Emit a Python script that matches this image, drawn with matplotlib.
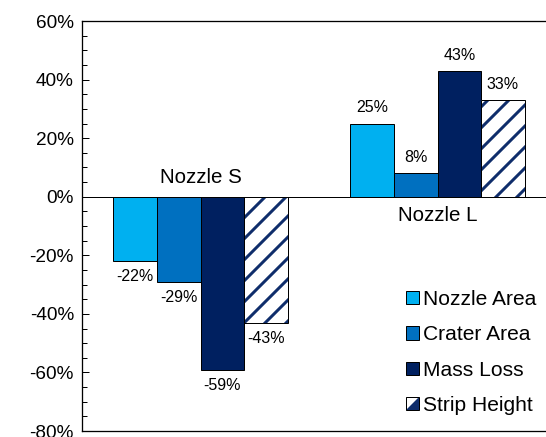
import matplotlib
matplotlib.use("Agg")
import matplotlib.pyplot as plt
from matplotlib.ticker import MultipleLocator, FuncFormatter
from matplotlib.legend_handler import HandlerBase
from matplotlib.patches import Rectangle, Polygon
import numpy as np

W, H = 546, 437
dpi = 63
PT = 72 / dpi  # points per output pixel

plt.rcParams['font.family'] = ['Liberation Sans', 'DejaVu Sans']
plt.rcParams['hatch.linewidth'] = 3.0 * PT

groups = ["Nozzle S", "Nozzle L"]
series = ["Nozzle Area", "Crater Area", "Mass Loss", "Strip Height"]
values = {
    "Nozzle Area": [-22, 25],
    "Crater Area": [-29, 8],
    "Mass Loss": [-59, 43],
    "Strip Height": [-43, 33],
}
colors = {
    "Nozzle Area": "#00b0f0",
    "Crater Area": "#0070c0",
    "Mass Loss": "#002060",
    "Strip Height": "white",
}
stripe_color = "#0f2d6b"
yticks = [-80, -60, -40, -20, 0, 20, 40, 60]


class HalfSquareHandler(HandlerBase):
    """Legend key: white square with a navy lower-right triangle."""
    def create_artists(self, legend, orig_handle, xdescent, ydescent,
                       width, height, fontsize, trans):
        x0, y0 = -xdescent, -ydescent
        bg = Rectangle((x0, y0), width, height, facecolor='white',
                       edgecolor='none', transform=trans)
        tri = Polygon([[x0, y0], [x0 + width, y0], [x0 + width, y0 + height]],
                      closed=True, facecolor=stripe_color, edgecolor='none',
                      transform=trans)
        border = Rectangle((x0, y0), width, height, fill=False,
                           edgecolor='black', linewidth=1.0 * PT,
                           transform=trans)
        return [bg, tri, border]


fig = plt.figure(figsize=(W / dpi, H / dpi), dpi=dpi)
ax = fig.add_axes([82 / W, 6 / H, 474 / W, 410 / H])

x = np.arange(len(groups))
width = 0.184
handles = []
for i, name in enumerate(series):
    offs = (i - 1.5) * width
    if name == "Strip Height":
        ax.bar(x + offs, values[name], width, color='white',
               edgecolor=stripe_color, linewidth=0, hatch='/', zorder=2)
        ax.bar(x + offs, values[name], width, fill=False,
               edgecolor='black', linewidth=1.0 * PT, zorder=2.5)
        handles.append(Rectangle((0, 0), 1, 1))
    else:
        bars = ax.bar(x + offs, values[name], width, color=colors[name],
                      edgecolor='black', linewidth=1.0 * PT, zorder=2)
        handles.append(bars)
    for xi, v in zip(x + offs, values[name]):
        dy = 5.3 if v > 0 else -5.3
        ax.text(xi, v + dy, f"{v}%", ha='center', va='center',
                fontsize=16 * PT)

ax.axhline(0, color='black', linewidth=1.0 * PT, zorder=3)

ax.set_xlim(-0.5, 1.5)
ax.set_ylim(yticks[0], yticks[-1])
ax.set_xticks([])
ax.set_yticks(yticks)
ax.yaxis.set_minor_locator(MultipleLocator(5))
ax.yaxis.set_major_formatter(FuncFormatter(lambda v, p: f"{v:.0f}%"))
ax.tick_params(axis='y', which='major', direction='in', length=7 * PT,
               width=1 * PT, labelsize=19 * PT, pad=8 * PT)
ax.tick_params(axis='y', which='minor', direction='in', length=5 * PT,
               width=1 * PT)

for s in ['left', 'top', 'bottom']:
    ax.spines[s].set_linewidth(1.3 * PT)
ax.spines['right'].set_visible(False)

# category names sit on the side of the zero line away from the bars
ax.text(0, 6.5, groups[0], ha='center', va='center', fontsize=20.5 * PT)
ax.text(1, -6.5, groups[1], ha='center', va='center', fontsize=20.5 * PT)

leg = ax.legend(handles=handles, labels=series, loc='lower left',
                bbox_to_anchor=((406 - 82) / 474, 16 / 410),
                frameon=False, fontsize=21 * PT, handlelength=0.6,
                handleheight=0.6, handletextpad=0.2, labelspacing=0.78,
                borderpad=0, borderaxespad=0,
                handler_map={handles[3]: HalfSquareHandler()})

fig.savefig("out.png", dpi=dpi)
